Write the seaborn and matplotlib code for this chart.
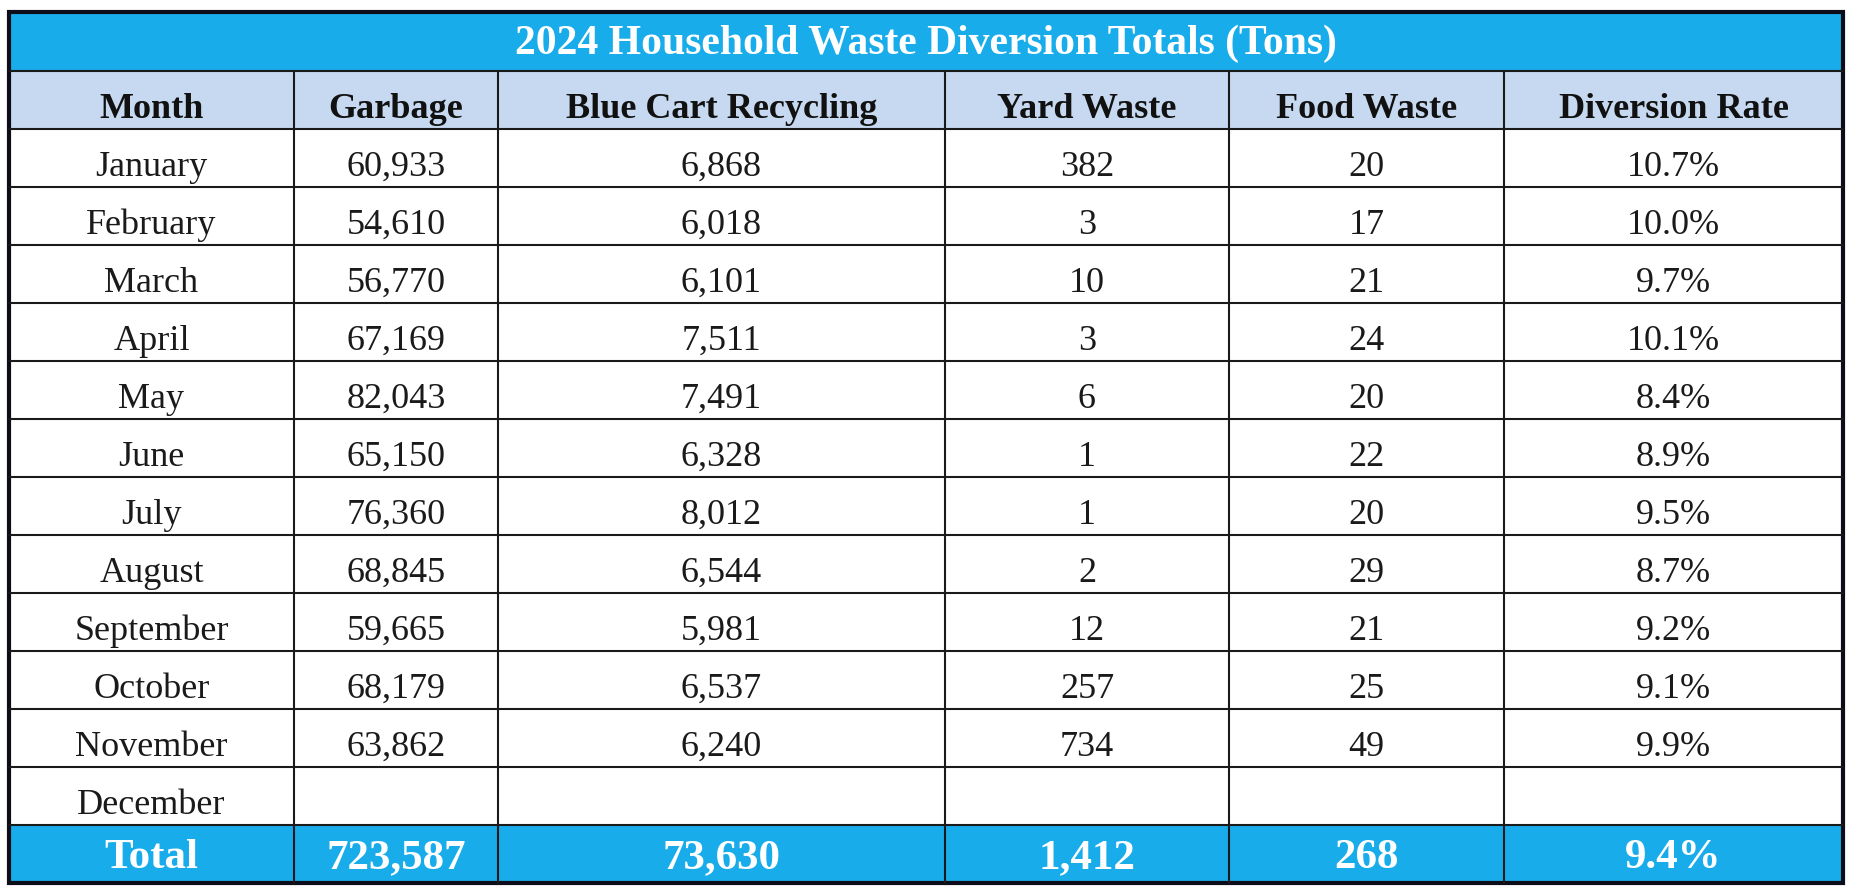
import numpy as np
import seaborn as sns
import matplotlib.pyplot as plt
from matplotlib.patches import Rectangle

# ------------------------------- DONNEES -------------------------------
titre = "2024 Household Waste Diversion Totals (Tons)"
colonnes = ["Month", "Garbage", "Blue Cart Recycling", "Yard Waste", "Food Waste", "Diversion Rate"]
mois = ["January", "February", "March", "April", "May", "June", "July",
        "August", "September", "October", "November", "December"]
garbage = [60933, 54610, 56770, 67169, 82043, 65150, 76360, 68845, 59665, 68179, 63862, None]
recycling = [6868, 6018, 6101, 7511, 7491, 6328, 8012, 6544, 5981, 6537, 6240, None]
yard = [382, 3, 10, 3, 6, 1, 1, 2, 12, 257, 734, None]
food = [20, 17, 21, 24, 20, 22, 20, 29, 21, 25, 49, None]
taux = [10.7, 10.0, 9.7, 10.1, 8.4, 8.9, 9.5, 8.7, 9.2, 9.1, 9.9, None]
total = ["Total", 723587, 73630, 1412, 268, 9.4]

# ------------------------------- MISE EN PAGE --------------------------
W, H = 1859, 891
x_bords = [9, 294, 498, 945, 1229, 1504, 1843]      # limites des colonnes (px)
y_haut, y_titre = 12, 71                              # bandeau du titre
y_lignes = np.linspace(71, 883, 15)                   # entete + 12 mois + total

bleu = "#19ACEB"
bleu_clair = "#C6D9F0"

sns.set_theme(style="white")
plt.rcParams['font.family'] = ['Liberation Serif', 'DejaVu Serif']

fig = plt.figure(figsize=(W / 100, H / 100), dpi=100)
ax = fig.add_axes([0, 0, 1, 1])
ax.set_xlim(0, W)
ax.set_ylim(H, 0)
ax.axis("off")


def fmt(v, pct=False):
    if v is None:
        return ""
    if isinstance(v, str):
        return v
    if pct:
        return f"{v:.1f}%"
    return f"{v:,}"


# bandeau du titre
ax.add_patch(Rectangle((x_bords[0], y_haut), x_bords[-1] - x_bords[0], y_titre - y_haut,
                       facecolor=bleu, edgecolor="none"))
ax.text((x_bords[0] + x_bords[-1]) / 2, (y_haut + y_titre) / 2 + 2, titre,
        color="white", fontsize=30, fontweight="bold", ha="center", va="center")

# lignes du tableau
lignes = [colonnes]
for i in range(len(mois)):
    lignes.append([mois[i], fmt(garbage[i]), fmt(recycling[i]), fmt(yard[i]),
                   fmt(food[i]), fmt(taux[i], pct=True)])
lignes.append([fmt(v, pct=(k == 5)) for k, v in enumerate(total)])

for r, ligne in enumerate(lignes):
    y0, y1 = y_lignes[r], y_lignes[r + 1]
    if r == 0:
        fond, coul, poids, taille, dy = bleu_clair, "#111111", "bold", 26, 9
    elif r == len(lignes) - 1:
        fond, coul, poids, taille, dy = bleu, "white", "bold", 31, 4
    else:
        fond, coul, poids, taille, dy = "white", "#1a1a1a", "normal", 26, 9
    ax.add_patch(Rectangle((x_bords[0], y0), x_bords[-1] - x_bords[0], y1 - y0,
                           facecolor=fond, edgecolor="none"))
    for c, txt in enumerate(ligne):
        ax.text((x_bords[c] + x_bords[c + 1]) / 2, (y0 + y1) / 2 + dy, txt,
                color=coul, fontsize=taille, fontweight=poids, ha="center", va="center")

# grille
for y in y_lignes[:-1]:
    ax.plot([x_bords[0], x_bords[-1]], [y, y], color="#1a1a1a", lw=1.5)
for x in x_bords[1:-1]:
    ax.plot([x, x], [y_titre, y_lignes[-1]], color="#1a1a1a", lw=1.5)
ax.add_patch(Rectangle((x_bords[0], y_haut), x_bords[-1] - x_bords[0], y_lignes[-1] - y_haut,
                       facecolor="none", edgecolor="#0d0d1a", lw=3))

fig.savefig("out.png", dpi=100)
